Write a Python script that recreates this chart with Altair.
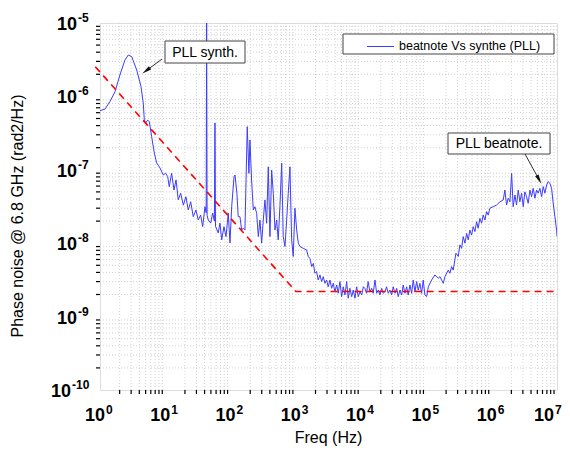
import altair as alt
import pandas as pd

# ---------------- data ----------------
freq = [1.0, 1.19, 1.42, 1.70, 2.02, 2.41, 2.71, 3.06, 3.65, 4.25, 4.60, 4.77, 5.01, 5.38, 5.69,
        6.19, 6.79, 7.38, 8.30, 9.31, 10.1, 10.9, 11.5, 12.5, 13.6, 14.6, 15.8, 17.2, 18.9, 20.7,
        22.5, 24.5, 26.8, 29.5, 32.0, 34.8, 37.4, 40.5, 42.3, 43.0, 43.7, 45.5, 49.6, 53.2, 56.5,
        57.7, 58.8, 64.8, 68.8, 73.1, 79.3, 85.1, 92.2, 97.9, 104, 113, 117, 125, 131, 139, 148,
        156, 166, 180, 191, 198, 210, 223, 236, 251, 266, 282, 299, 317, 336, 357, 378, 401, 426,
        451, 479, 508, 537, 570, 607, 641, 681, 723, 765, 812, 862, 912, 968, 1030, 1090, 1160,
        1300, 1460, 1550, 1640, 1750, 1850, 1960, 2080, 2200, 2340, 2480, 2630, 2790, 2960, 3130,
        3330, 3530, 3740, 3970, 4220, 4460, 4730, 5030, 5320, 5650, 6000, 6340, 6730, 7160, 7570,
        8040, 8530, 9030, 9590, 10200, 10800, 11400, 12100, 12800, 13600, 14500, 15300, 16300,
        17300, 18300, 19400, 20600, 21800, 23100, 24500, 26000, 27600, 29300, 31000, 33000,
        35000, 37000, 39300, 41700, 44100, 46900, 49800, 52600, 55900, 59300, 62800, 66700,
        70800, 74900, 79400, 84400, 89300, 94800, 100700, 107000, 120000, 135000, 152000,
        161000, 181000, 192000, 216000, 229000, 243000, 257000, 283000, 307000, 326000, 346000,
        366000, 389000, 413000, 437000, 463000, 492000, 521000, 553000, 587000, 621000, 659000,
        700000, 741000, 787000, 835000, 884000, 938000, 1.05e6, 1.19e6, 1.34e6, 1.50e6, 1.59e6,
        1.69e6, 1.79e6, 1.90e6, 2.02e6, 2.13e6, 2.27e6, 2.40e6, 2.55e6, 2.70e6, 2.87e6, 3.04e6,
        3.22e6, 3.42e6, 3.62e6, 3.85e6, 4.08e6, 4.32e6, 4.59e6, 4.87e6, 5.15e6, 5.47e6, 5.81e6,
        6.15e6, 6.53e6, 6.93e6, 7.33e6, 7.78e6, 8.26e6, 8.75e6, 9.29e6, 9.86e6, 1.0e7]

phase_noise = [6.4e-7, 6.7e-7, 8.5e-7, 1.16e-6, 1.96e-6, 3.13e-6, 3.66e-6, 3.48e-6, 2.29e-6,
               1.36e-6, 8.1e-7, 4.8e-7, 4.35e-7, 4.76e-7, 4.52e-7, 2.82e-7, 1.69e-7, 1.24e-7,
               1.06e-7, 8.5e-8, 9.0e-8, 8.05e-8, 5.9e-8, 8.95e-8, 5.3e-8, 7.3e-8, 3.9e-8, 4.8e-8,
               3.3e-8, 4.3e-8, 2.83e-8, 3.67e-8, 2.3e-8, 2.83e-8, 2.07e-8, 2.42e-8, 1.68e-8,
               3.14e-8, 2.6e-8, 1.0e-5, 2.4e-8, 2.07e-8, 1.88e-8, 2.58e-8, 2.0e-8, 4.35e-7,
               1.7e-8, 1.38e-8, 1.88e-8, 1.11e-8, 1.68e-8, 1.23e-8, 2.58e-8, 1.01e-8, 3.14e-8,
               8.05e-8, 8.5e-8, 4.8e-8, 2.3e-8, 2.3e-8, 1.51e-8, 1.6e-8, 1.51e-8, 3.87e-7,
               8.95e-8, 2.55e-7, 7.26e-8, 2.83e-8, 3.14e-8, 2.55e-8, 1.23e-8, 2.07e-8, 1.0e-8,
               2.07e-8, 3.88e-8, 1.87e-8, 1.1e-7, 1.23e-8, 9.9e-8, 4.8e-8, 1.51e-8, 2.07e-8,
               1.11e-8, 3.14e-8, 1.23e-7, 1.23e-8, 9.0e-9, 2.07e-8, 4.8e-8, 1.1e-7, 1.11e-8,
               6.6e-9, 3.0e-8, 1.51e-8, 1.0e-8, 9.0e-9, 8.5e-9, 8.1e-9, 6.6e-9, 6.2e-9, 4.8e-9,
               5.3e-9, 3.9e-9, 4.1e-9, 3.15e-9, 3.7e-9, 3.0e-9, 3.5e-9, 2.84e-9, 3.15e-9, 2.55e-9,
               3.15e-9, 2.43e-9, 2.84e-9, 2.18e-9, 2.7e-9, 2.08e-9, 3.0e-9, 1.87e-9, 2.55e-9,
               1.97e-9, 3.0e-9, 1.78e-9, 2.43e-9, 1.87e-9, 2.3e-9, 1.78e-9, 2.55e-9, 1.87e-9,
               2.18e-9, 1.97e-9, 2.55e-9, 2.43e-9, 2.08e-9, 3.0e-9, 2.18e-9, 2.43e-9, 2.08e-9,
               3.15e-9, 2.08e-9, 2.3e-9, 1.97e-9, 2.43e-9, 2.08e-9, 2.18e-9, 2.55e-9, 2.08e-9,
               2.3e-9, 1.97e-9, 2.55e-9, 2.08e-9, 2.43e-9, 1.87e-9, 2.3e-9, 1.97e-9, 2.7e-9,
               2.08e-9, 2.55e-9, 1.97e-9, 2.7e-9, 2.08e-9, 3.15e-9, 2.18e-9, 3.0e-9, 2.3e-9,
               2.84e-9, 2.08e-9, 3.15e-9, 1.97e-9, 1.87e-9, 2.55e-9, 3.15e-9, 3.7e-9, 3.33e-9,
               3.5e-9, 2.84e-9, 3.5e-9, 4.3e-9, 3.9e-9, 4.8e-9, 4.3e-9, 7.3e-9, 6.6e-9, 9.5e-9,
               8.5e-9, 1.23e-8, 1.0e-8, 1.36e-8, 1.11e-8, 1.51e-8, 1.29e-8, 1.68e-8, 1.44e-8,
               1.96e-8, 1.6e-8, 2.18e-8, 1.87e-8, 2.42e-8, 2.07e-8, 2.69e-8, 2.42e-8, 3.0e-8,
               3.14e-8, 3.31e-8, 3.67e-8, 3.88e-8, 5.3e-8, 3.31e-8, 4.1e-8, 3.67e-8, 8.95e-8,
               3.14e-8, 4.54e-8, 3.31e-8, 5.3e-8, 3.67e-8, 4.8e-8, 3.14e-8, 5.0e-8, 4.3e-8,
               3.5e-8, 5.3e-8, 4.3e-8, 5.6e-8, 4.1e-8, 5.3e-8, 4.8e-8, 5.6e-8, 4.3e-8, 5.9e-8,
               4.8e-8, 6.2e-8, 6.9e-8, 6.55e-8, 5.6e-8, 3.5e-8, 2.3e-8, 1.51e-8, 1.23e-8]

# red dashed guide (1/f slope then flat floor)
guide_freq = [0.845, 1000, 1.0e7]
guide_pn = [2.54e-6, 2.2e-9, 2.2e-9]

x_exponents = [0, 1, 2, 3, 4, 5, 6, 7]
y_exponents = [-10, -9, -8, -7, -6, -5]
minor_mult = [2, 3, 4, 5, 6, 7, 8, 9]

series_name = "beatnote Vs synthe (PLL)"
x_title = "Freq (Hz)"
y_title = "Phase noise @ 6.8 GHz (rad2/Hz)"
note_synth = "PLL synth."
note_beat = "PLL beatnote."

# ---------------- tables ----------------
W, H = 457, 367
FONT = "Liberation Sans"

df = pd.DataFrame({"f": freq, "v": phase_noise})
df_guide = pd.DataFrame({"f": guide_freq, "v": guide_pn})
x_major = [10.0 ** e for e in x_exponents]
y_major = [10.0 ** e for e in y_exponents]
x_minor = [m * 10.0 ** e for e in x_exponents[:-1] for m in minor_mult]
y_minor = [m * 10.0 ** e for e in y_exponents[:-1] for m in minor_mult]
df_xlab = pd.DataFrame({"f": x_major, "e": [str(e) for e in x_exponents]})
df_ylab = pd.DataFrame({"v": y_major, "e": [str(e) for e in y_exponents]})
df_xmin = pd.DataFrame({"f": x_minor})
df_ymin = pd.DataFrame({"v": y_minor})
one = pd.DataFrame({"a": [0]})
last_x = str(x_exponents[-1])

xs = alt.Scale(type="log", domain=[1, 1e7], nice=False)
ys = alt.Scale(type="log", domain=[1e-10, 1e-5], nice=False)

x_axis = alt.Axis(values=x_major, labels=False, title=None, tickSize=6, tickColor="black",
                  tickWidth=1.5, domainColor="black", domainWidth=1.5, grid=True,
                  gridColor="#c2c2c2", gridWidth=1)
y_axis = alt.Axis(values=y_major, labels=False, title=None, tickSize=6, tickColor="black",
                  tickWidth=1.5, domainColor="black", domainWidth=1.5, grid=True,
                  gridColor="#c2c2c2", gridWidth=1)

minor_grid_x = alt.Chart(df_xmin).mark_rule(color="#d2d2d2", strokeDash=[1, 2], strokeWidth=1).encode(
    x=alt.X("f:Q", scale=xs, axis=None))
minor_grid_y = alt.Chart(df_ymin).mark_rule(color="#d2d2d2", strokeDash=[1, 2], strokeWidth=1).encode(
    y=alt.Y("v:Q", scale=ys, axis=None))

minor_tick_x = alt.Chart(df_xmin).mark_rule(color="black", strokeWidth=1.2).encode(
    x=alt.X("f:Q", scale=xs, axis=None), y=alt.value(H), y2=alt.value(H + 4))
minor_tick_y = alt.Chart(df_ymin).mark_rule(color="black", strokeWidth=1.2).encode(
    y=alt.Y("v:Q", scale=ys, axis=None), x=alt.value(0), x2=alt.value(-4))

guide = alt.Chart(df_guide).mark_line(color="#ff0000", strokeWidth=1.6, strokeDash=[7, 5]).encode(
    x=alt.X("f:Q", scale=xs, axis=None), y=alt.Y("v:Q", scale=ys, axis=None))

line = alt.Chart(df).mark_line(color="#3c3cff", strokeWidth=1, clip=True).encode(
    x=alt.X("f:Q", scale=xs, axis=x_axis), y=alt.Y("v:Q", scale=ys, axis=y_axis))


# tick labels with superscript exponents
def xlabels(filter_expr, shift):
    base = alt.Chart(df_xlab).transform_filter(filter_expr).mark_text(
        align="right", baseline="alphabetic", fontSize=18, fontWeight="bold", dx=5 + shift,
        font=FONT).encode(x=alt.X("f:Q", scale=xs, axis=None), y=alt.value(H + 31),
                          text=alt.value("10"))
    exp = alt.Chart(df_xlab).transform_filter(filter_expr).mark_text(
        align="left", baseline="alphabetic", fontSize=12, fontWeight="bold", dx=6 + shift,
        font=FONT).encode(x=alt.X("f:Q", scale=xs, axis=None), y=alt.value(H + 24), text="e:N")
    return [base, exp]


xl_main = xlabels(f"datum.e != '{last_x}'", 0)
xl_last = xlabels(f"datum.e == '{last_x}'", -8)

ylab_base = alt.Chart(df_ylab).transform_calculate(
    lx="-43 - 6*(length(datum.e) - 2)").mark_text(
    align="left", baseline="alphabetic", fontSize=18, fontWeight="bold", dy=7, font=FONT).encode(
    y=alt.Y("v:Q", scale=ys, axis=None), x=alt.X("lx:Q", scale=None), text=alt.value("10"))
ylab_exp = alt.Chart(df_ylab).transform_calculate(
    lx="-22 - 6*(length(datum.e) - 2)").mark_text(
    align="left", baseline="alphabetic", fontSize=12, fontWeight="bold", dy=-1, font=FONT).encode(
    y=alt.Y("v:Q", scale=ys, axis=None), x=alt.X("lx:Q", scale=None), text="e:N")

xtitle = alt.Chart(one).mark_text(fontSize=16, font=FONT, align="center", baseline="alphabetic").encode(
    x=alt.value(W / 2), y=alt.value(H + 53), text=alt.value(x_title))
ytitle = alt.Chart(one).mark_text(fontSize=16, font=FONT, align="center", baseline="middle",
                                  angle=270).encode(
    x=alt.value(-82), y=alt.value(193), text=alt.value(y_title))

# legend box
leg_box = alt.Chart(one).mark_rect(fill="white", stroke="#444444", strokeWidth=1).encode(
    x=alt.value(243), x2=alt.value(454), y=alt.value(11), y2=alt.value(31))
leg_line = alt.Chart(one).mark_rule(color="#3c3cff", strokeWidth=1).encode(
    x=alt.value(267), x2=alt.value(294), y=alt.value(23.5))
leg_text = alt.Chart(one).mark_text(fontSize=12.5, font=FONT, align="left", baseline="middle").encode(
    x=alt.value(299), y=alt.value(22.5), text=alt.value(series_name))

# annotation boxes & arrows
ARROW = "M0,-1L0.42,1L-0.42,1Z"
box1 = alt.Chart(one).mark_rect(fill="white", stroke="#444444", strokeWidth=1).encode(
    x=alt.value(65), x2=alt.value(145), y=alt.value(18), y2=alt.value(40))
txt1 = alt.Chart(one).mark_text(fontSize=14, font=FONT, align="center", baseline="middle").encode(
    x=alt.value(105), y=alt.value(29.5), text=alt.value(note_synth))
arr1 = alt.Chart(one).mark_rule(color="#333333", strokeWidth=1).encode(
    x=alt.value(62), x2=alt.value(46.5), y=alt.value(36), y2=alt.value(47.5))
head1 = alt.Chart(one).mark_point(shape=ARROW, filled=True, size=90, color="#111111", opacity=1,
                                  angle=233.7).encode(x=alt.value(46.2), y=alt.value(47.6))

box2 = alt.Chart(one).mark_rect(fill="white", stroke="#444444", strokeWidth=1).encode(
    x=alt.value(348), x2=alt.value(450), y=alt.value(110), y2=alt.value(131))
txt2 = alt.Chart(one).mark_text(fontSize=14, font=FONT, align="center", baseline="middle").encode(
    x=alt.value(399), y=alt.value(121), text=alt.value(note_beat))
arr2 = alt.Chart(one).mark_rule(color="#333333", strokeWidth=1).encode(
    x=alt.value(425), x2=alt.value(439), y=alt.value(131), y2=alt.value(156.5))
head2 = alt.Chart(one).mark_point(shape=ARROW, filled=True, size=90, color="#111111", opacity=1,
                                  angle=151.9).encode(x=alt.value(439.1), y=alt.value(156.5))

chart = alt.layer(
    minor_grid_x, minor_grid_y, line, guide, minor_tick_x, minor_tick_y,
    *xl_main, *xl_last, ylab_base, ylab_exp, xtitle, ytitle,
    leg_box, leg_line, leg_text, box1, txt1, arr1, head1, box2, txt2, arr2, head2
).properties(
    width=W, height=H,
    autosize=alt.AutoSizeParams(type="none"),
    padding={"left": 92, "top": 15, "right": 5, "bottom": 58},
).configure_view(stroke=None).configure(font=FONT, background="white")

chart.save("out.html", embed_options={"renderer": "svg", "actions": False})
